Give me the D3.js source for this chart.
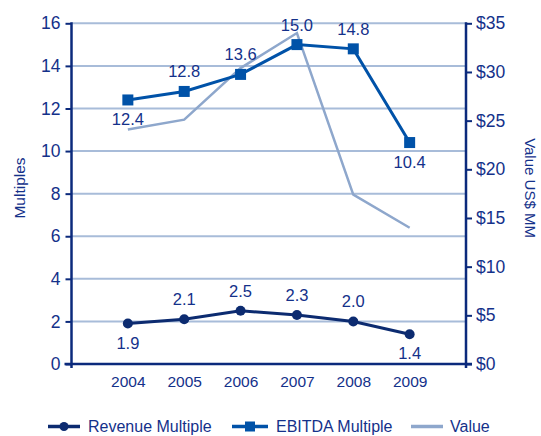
<!DOCTYPE html>
<html>
<head>
<meta charset="utf-8">
<script src="https://cdn.jsdelivr.net/npm/d3@7"></script>
<style>
  html, body { margin: 0; padding: 0; background: #ffffff; }
  svg { display: block; font-family: Arial, "Liberation Sans", sans-serif; }
</style>
</head>
<body>
<svg id="chart" width="541" height="436"></svg>
<script>
// Transaction multiples and deal value by year
const years = ["2004", "2005", "2006", "2007", "2008", "2009"];
const revenueMultiple = [1.9, 2.1, 2.5, 2.3, 2.0, 1.4];
const ebitdaMultiple = [12.4, 12.8, 13.6, 15.0, 14.8, 10.4];
const dealValue = [24.1, 25.1, 30.4, 34.0, 17.4, 14.0];
const revenueLabelBelow = [true, false, false, false, false, true];
const ebitdaLabelBelow = [true, false, false, false, false, true];
const multipleTicks = [0, 2, 4, 6, 8, 10, 12, 14, 16];
const valueTicks = [0, 5, 10, 15, 20, 25, 30, 35];

const navy = "#0b2a7c";
const textColor = "#14318a";
const revenueColor = "#0c2b70";
const ebitdaColor = "#0052a8";
const valueColor = "#8ea7cc";
const gridColor = "#a8bcd9";

const svg = d3.select("#chart");
const plotLeft = 71.5, plotRight = 466, plotTop = 23.3, plotBottom = 364;

const x = d3.scalePoint().domain(years)
  .range([plotLeft + (plotRight - plotLeft) / 7, plotRight - (plotRight - plotLeft) / 7]);
const yL = d3.scaleLinear().domain([0, 16]).range([plotBottom, plotTop]);
const yR = d3.scaleLinear().domain([0, 35]).range([plotBottom, plotTop]);

// gridlines
svg.append("g").selectAll("line")
  .data(multipleTicks.filter(d => d > 0))
  .join("line")
  .attr("x1", plotLeft).attr("x2", plotRight)
  .attr("y1", d => yL(d)).attr("y2", d => yL(d))
  .attr("stroke", gridColor).attr("stroke-width", 2);

// left axis
const axL = svg.append("g").attr("transform", `translate(${plotLeft},0)`)
  .call(d3.axisLeft(yL).tickValues(multipleTicks).tickSize(6).tickPadding(5));
// right axis
const axR = svg.append("g").attr("transform", `translate(${plotRight},0)`)
  .call(d3.axisRight(yR).tickValues(valueTicks).tickSize(6).tickPadding(4)
    .tickFormat(d => "$" + d));
// bottom axis
const axB = svg.append("g").attr("transform", `translate(0,${plotBottom})`)
  .call(d3.axisBottom(x).tickSize(0).tickPadding(12));

[axL, axR].forEach(g => {
  g.select(".domain").remove();
  g.selectAll("line").attr("stroke", navy).attr("stroke-width", 2);
  g.selectAll("text").attr("fill", textColor).attr("font-size", 17.5);
});
axB.select(".domain").remove();
axB.selectAll("text").attr("fill", textColor).attr("font-size", 15.5);

// axis frame lines
svg.append("line").attr("x1", plotLeft).attr("x2", plotLeft)
  .attr("y1", plotTop - 1).attr("y2", plotBottom + 4)
  .attr("stroke", navy).attr("stroke-width", 2.5);
svg.append("line").attr("x1", plotRight).attr("x2", plotRight)
  .attr("y1", plotTop - 1).attr("y2", plotBottom + 4)
  .attr("stroke", navy).attr("stroke-width", 2.5);
svg.append("line").attr("x1", plotLeft - 7).attr("x2", plotRight + 6)
  .attr("y1", plotBottom).attr("y2", plotBottom)
  .attr("stroke", navy).attr("stroke-width", 2.5);

// axis titles
svg.append("text").attr("transform", "translate(25,188) rotate(-90)")
  .attr("text-anchor", "middle").attr("fill", textColor).attr("font-size", 15.5)
  .text("Multiples");
svg.append("text").attr("transform", "translate(525,188) rotate(90)")
  .attr("text-anchor", "middle").attr("fill", textColor).attr("font-size", 15)
  .text("Value US$ MM");

// value line
svg.append("path").datum(dealValue)
  .attr("fill", "none").attr("stroke", valueColor).attr("stroke-width", 2.5)
  .attr("d", d3.line().x((d, i) => x(years[i])).y(d => yR(d)));

// EBITDA multiple
svg.append("path").datum(ebitdaMultiple)
  .attr("fill", "none").attr("stroke", ebitdaColor).attr("stroke-width", 3)
  .attr("d", d3.line().x((d, i) => x(years[i])).y(d => yL(d)));
svg.append("g").selectAll("rect").data(ebitdaMultiple).join("rect")
  .attr("x", (d, i) => x(years[i]) - 5.5).attr("y", d => yL(d) - 5.5)
  .attr("width", 11).attr("height", 11).attr("fill", ebitdaColor);
svg.append("g").selectAll("text").data(ebitdaMultiple).join("text")
  .attr("x", (d, i) => x(years[i]))
  .attr("y", (d, i) => yL(d) + (ebitdaLabelBelow[i] ? 25 : -14))
  .attr("text-anchor", "middle").attr("fill", textColor).attr("font-size", 16.5)
  .text(d => d.toFixed(1));

// revenue multiple
svg.append("path").datum(revenueMultiple)
  .attr("fill", "none").attr("stroke", revenueColor).attr("stroke-width", 3)
  .attr("d", d3.line().x((d, i) => x(years[i])).y(d => yL(d)));
svg.append("g").selectAll("circle").data(revenueMultiple).join("circle")
  .attr("cx", (d, i) => x(years[i])).attr("cy", d => yL(d))
  .attr("r", 5).attr("fill", revenueColor);
svg.append("g").selectAll("text").data(revenueMultiple).join("text")
  .attr("x", (d, i) => x(years[i]))
  .attr("y", (d, i) => yL(d) + (revenueLabelBelow[i] ? 25 : -14))
  .attr("text-anchor", "middle").attr("fill", textColor).attr("font-size", 16.5)
  .text(d => d.toFixed(1));

// legend
const legend = svg.append("g").attr("transform", "translate(0,426.5)");
const items = [
  { name: "Revenue Multiple", color: revenueColor, x0: 48, x1: 80, tx: 88, mark: "circle" },
  { name: "EBITDA Multiple", color: ebitdaColor, x0: 232, x1: 268, tx: 276, mark: "square" },
  { name: "Value", color: valueColor, x0: 411, x1: 443, tx: 450, mark: null }
];
items.forEach(it => {
  legend.append("line").attr("x1", it.x0).attr("x2", it.x1).attr("y1", 0).attr("y2", 0)
    .attr("stroke", it.color).attr("stroke-width", 3.5);
  const cx = (it.x0 + it.x1) / 2;
  if (it.mark === "circle") legend.append("circle").attr("cx", cx).attr("cy", 0).attr("r", 4.5).attr("fill", it.color);
  if (it.mark === "square") legend.append("rect").attr("x", cx - 5).attr("y", -5).attr("width", 10).attr("height", 10).attr("fill", it.color);
  legend.append("text").attr("x", it.tx).attr("y", 5.5).attr("fill", textColor)
    .attr("font-size", 16).text(it.name);
});
</script>
</body>
</html>
